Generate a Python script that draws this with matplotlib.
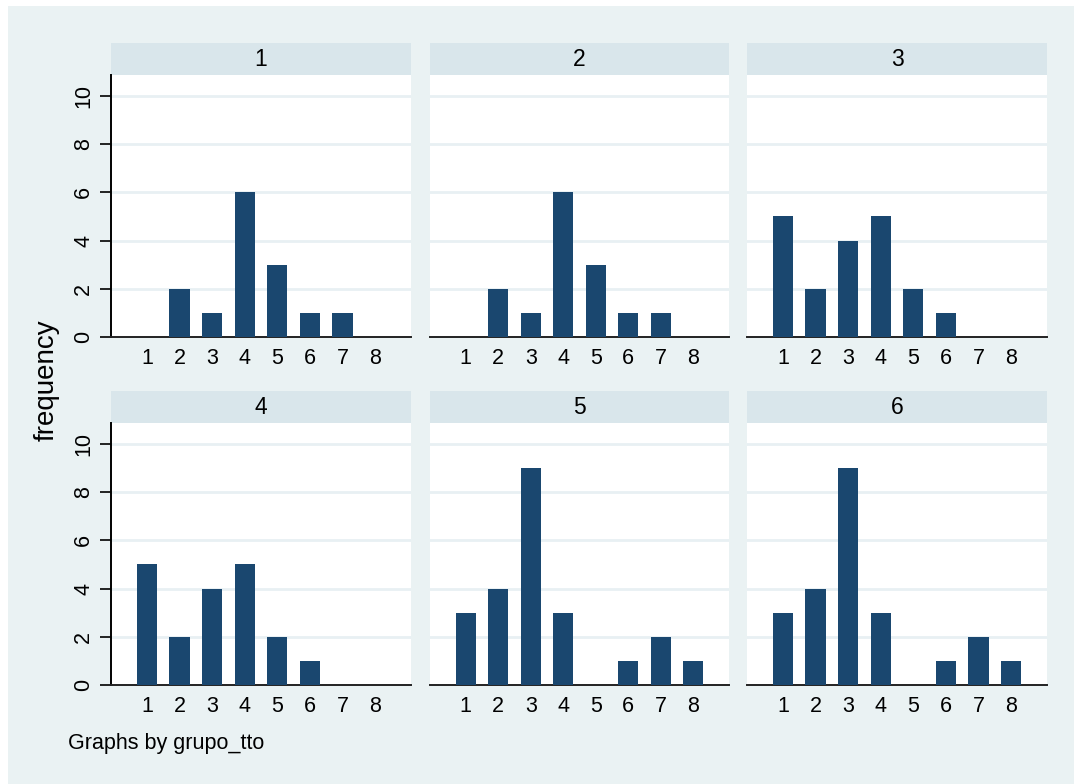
import matplotlib
matplotlib.use("Agg")
import matplotlib.pyplot as plt
from matplotlib.patches import Rectangle

plt.rcParams['font.family'] = ['Liberation Sans', 'DejaVu Sans']

# frequency of each score (1..8) by treatment group
groups = ["1", "2", "3", "4", "5", "6"]
scores = [1, 2, 3, 4, 5, 6, 7, 8]
freq_g1 = [0, 2, 1, 6, 3, 1, 1, 0]
freq_g2 = [0, 2, 1, 6, 3, 1, 1, 0]
freq_g3 = [5, 2, 4, 5, 2, 1, 0, 0]
freq_g4 = [5, 2, 4, 5, 2, 1, 0, 0]
freq_g5 = [3, 4, 9, 3, 0, 1, 2, 1]
freq_g6 = [3, 4, 9, 3, 0, 1, 2, 1]
all_freqs = [freq_g1, freq_g2, freq_g3, freq_g4, freq_g5, freq_g6]
yticks = [0, 2, 4, 6, 8, 10]

W, H = 1074, 784
BG = "#EAF2F3"
STRIP = "#D9E6EB"
BAR = "#1A476F"

fig = plt.figure(figsize=(W / 100, H / 100), dpi=100)
fig.patch.set_facecolor("white")
fig.patches.append(Rectangle((8 / W, 0), 1, 1 - 6 / H, transform=fig.transFigure,
                             facecolor=BG, edgecolor="none", zorder=-10))


def px_box(x0, y0, x1, y1):
    return [x0 / W, 1 - y1 / H, (x1 - x0) / W, (y1 - y0) / H]


col_x = [(111, 411), (430, 729), (747, 1047)]
row_y = [(43, 75, 337), (391, 423, 685)]

for i, (name, freq) in enumerate(zip(groups, all_freqs)):
    r, c = divmod(i, 3)
    x0, x1 = col_x[c]
    s0, p0, p1 = row_y[r]

    strip = fig.add_axes(px_box(x0, s0, x1, p0))
    strip.set_facecolor(STRIP)
    strip.set_xticks([])
    strip.set_yticks([])
    for sp in strip.spines.values():
        sp.set_visible(False)
    strip.text(0.5, 0.47, name, ha="center", va="center", fontsize=16.5,
               transform=strip.transAxes)

    ax = fig.add_axes(px_box(x0, p0, x1, p1))
    ax.set_facecolor("white")
    ax.set_axisbelow(True)
    ax.bar(scores, freq, width=0.62, color=BAR, zorder=3)
    ax.set_xlim(-0.1, 9.1)
    ax.set_ylim(0, 10.87)
    for y in yticks[1:]:
        ax.axhline(y, color="#E8F0F3", lw=2.0, zorder=1)
    ax.set_xticks(scores)
    ax.set_xticklabels([str(s) for s in scores])
    ax.tick_params(axis="x", length=0, pad=8, labelsize=15.5)
    for side in ["top", "right"]:
        ax.spines[side].set_visible(False)
    ax.spines["bottom"].set_color("#222222")
    ax.spines["bottom"].set_linewidth(1.4)
    if c == 0:
        ax.set_yticks(yticks)
        ax.set_yticklabels([str(y) for y in yticks], rotation=90, va="center")
        ax.tick_params(axis="y", length=8, width=1.2, pad=4, labelsize=15.5)
        ax.spines["left"].set_color("black")
        ax.spines["left"].set_linewidth(1.4)
    else:
        ax.set_yticks([])
        ax.spines["left"].set_visible(False)

fig.text(47 / W, 1 - 380 / H, "frequency", rotation=90, ha="center", va="center",
         fontsize=20)
fig.text(68 / W, 1 - 744 / H, "Graphs by grupo_tto", ha="left", va="center",
         fontsize=15.5)

fig.savefig("out.png", dpi=100, facecolor=fig.get_facecolor())
